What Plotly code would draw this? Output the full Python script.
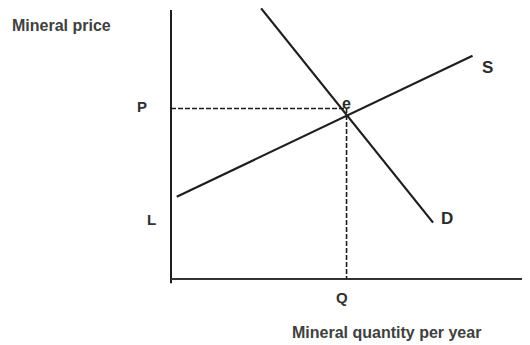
import plotly.graph_objects as go

# ---- data (economic units: quantity on x, price on y) ----
supply_q = [0.16, 8.40]
supply_p = [2.95, 8.00]
demand_q = [2.51, 7.30]
demand_p = [9.70, 2.02]
eq_q = 4.89          # Q
eq_p = 6.11          # P
axis_y_top = 9.64
axis_x_right = 10.0

curve_labels = ["S", "D"]
axis_labels = ["P", "L", "Q"]
point_label = "e"
y_title = "Mineral price"
x_title = "Mineral quantity per year"

# page is 530x345 but the html body has an 8px margin
OFF = 8
W, H = 530, 345 - OFF
# plotting frame: origin sits at page pixel (171, 279)
X0_PX, Y0_PX = 171 - OFF, 279 - OFF
UX, UY = 35.9, 27.9
x_range = [-X0_PX / UX, (W - X0_PX) / UX]
y_range = [-(H - Y0_PX) / UY, Y0_PX / UY]

def px(xp, yp):
    return (xp - OFF) / W, 1 - (yp - OFF) / H

LINE = "#1e1e1e"
FONT = "Liberation Sans, Arial, sans-serif"

fig = go.Figure()
# axes
fig.add_trace(go.Scatter(x=[0, 0], y=[-0.15, axis_y_top], mode="lines",
                         line=dict(color=LINE, width=2), hoverinfo="skip"))
fig.add_trace(go.Scatter(x=[0, axis_x_right], y=[0, 0], mode="lines",
                         line=dict(color="#333333", width=2), hoverinfo="skip"))
# dashed guides
fig.add_trace(go.Scatter(x=[0, eq_q, eq_q], y=[eq_p, eq_p, 0], mode="lines",
                         line=dict(color=LINE, width=1.6, dash="5px,2px"), hoverinfo="skip"))
# supply & demand
fig.add_trace(go.Scatter(x=supply_q, y=supply_p, mode="lines",
                         line=dict(color=LINE, width=2.2), hoverinfo="skip"))
fig.add_trace(go.Scatter(x=demand_q, y=demand_p, mode="lines",
                         line=dict(color=LINE, width=2.2), hoverinfo="skip"))

ann = []
def text(t, xp, yp, size, color="#1e1e1e"):
    x, y = px(xp, yp)
    ann.append(dict(text="<b>%s</b>" % t, x=x, y=y, xref="paper", yref="paper",
                    showarrow=False, xanchor="center", yanchor="middle",
                    font=dict(family=FONT, size=size, color=color)))

text(y_title, 61, 26, 16, "#404040")
text(x_title, 386, 332, 16, "#404040")
text(axis_labels[0], 142, 106, 15, "#303030")
text(axis_labels[1], 151.7, 219, 15, "#303030")
text(axis_labels[2], 341.7, 297, 15, "#303030")
text(curve_labels[0], 487, 67.5, 17, "#2a2a2a")
text(curve_labels[1], 446.5, 218, 17, "#2a2a2a")
text(point_label, 346, 103, 16, "#2a2a2a")

fig.update_layout(
    width=W, height=H, margin=dict(l=0, r=0, t=0, b=0),
    paper_bgcolor="white", plot_bgcolor="white", showlegend=False,
    xaxis=dict(range=x_range, visible=False, fixedrange=True),
    yaxis=dict(range=y_range, visible=False, fixedrange=True),
    annotations=ann,
)
fig.write_html("out.html")
